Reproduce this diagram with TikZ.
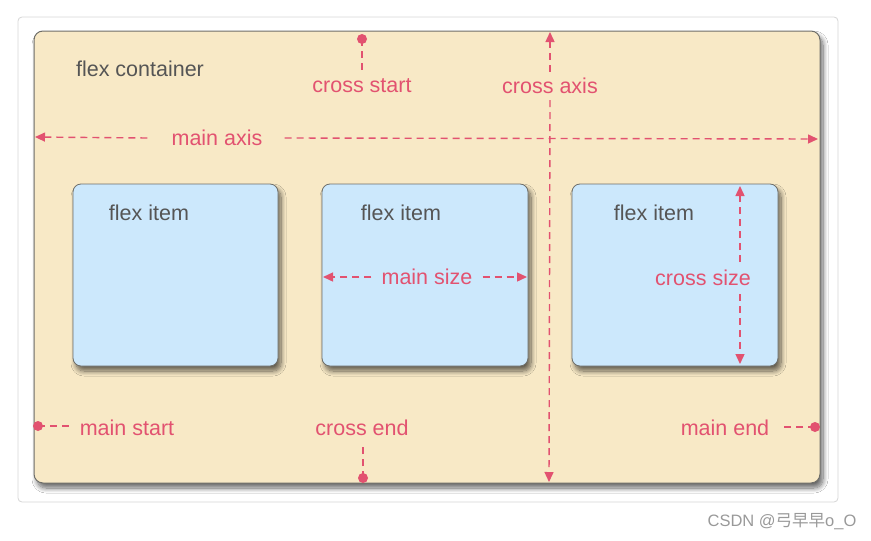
\documentclass[tikz,border=0pt]{standalone}
\usepackage{fontspec}
\setmainfont{Liberation Sans}
\newfontfamily\cjk{Noto Sans CJK SC}
\usetikzlibrary{arrows.meta,shadows.blur}
\definecolor{cardline}{RGB}{214,214,214}
\definecolor{contfill}{RGB}{248,233,198}
\definecolor{itemfill}{RGB}{204,232,252}
\definecolor{boxline}{RGB}{110,110,105}
\definecolor{lblred}{RGB}{226,82,112}
\definecolor{txtgrey}{RGB}{85,85,85}
\tikzset{
  x=1pt, y=-1pt,
  card/.style={draw=cardline, line width=0.8pt, rounded corners=4pt, fill=white},
  container/.style={draw=boxline, line width=1pt, fill=contfill, rounded corners=9pt,
     blur shadow={shadow xshift=3pt, shadow yshift=-5pt, shadow blur steps=10, shadow blur radius=5pt, shadow opacity=60}},
  flexitem/.style={draw=boxline, line width=0.8pt, fill=itemfill, rounded corners=8pt,
     blur shadow={shadow xshift=3pt, shadow yshift=-5pt, shadow blur steps=10, shadow blur radius=5pt, shadow opacity=60}},
  greytxt/.style={text=txtgrey, font=\fontsize{21.5}{25}\selectfont, inner sep=1pt},
  redtxt/.style={text=lblred, font=\fontsize{21.5}{25}\selectfont, inner sep=2pt},
  dashline/.style={draw=lblred, line width=1.4pt, dash pattern=on 7pt off 5pt},
  dotend/.style={circle, fill=lblred, inner sep=0pt, minimum size=10pt},
}
\begin{document}
\begin{tikzpicture}
\useasboundingbox (0,0) rectangle (871,541);
% card
\path[card] (18,17) rectangle (838,502);
% container
\path[container] (34,31) rectangle (820,483);
% items
\path[flexitem] (73,184) rectangle (278,366);
\path[flexitem] (322,184) rectangle (528,366);
\path[flexitem] (572,184) rectangle (778,366);

\node[greytxt] (fc) at (140,69) {flex container};
\node[greytxt] (fi1) at (149,213) {flex item};
\node[greytxt] (fi2) at (401,213) {flex item};
\node[greytxt] (fi3) at (654,213) {flex item};

% main axis
\coordinate (maL) at (35,137);
\coordinate (maR) at (818,139);
\node[redtxt] (ma) at (217,138) {main axis};
\draw[dashline, -{Triangle[length=10pt,width=9pt]}] (ma.west) ++(-22,0) -- (maL);
\draw[dashline, -{Triangle[length=10pt,width=9pt]}] (ma.east) ++(20,0) -- (maR);

% cross axis
\coordinate (caT) at (550,32);
\coordinate (caB) at (549,482);
\node[redtxt] (ca) at (550,86) {cross axis};
\draw[dashline, -{Triangle[length=10pt,width=9pt]}] (ca.north) ++(0,-4) -- (caT);
\draw[dashline, -{Triangle[length=10pt,width=9pt]}] (ca.south) ++(0,4) -- (caB);

% cross start
\node[redtxt] (cs) at (362,86) {cross start};
\node[dotend] (csd) at (362,39) {};
\draw[dashline] (csd.center) -- ++(0,32);

% cross end
\node[redtxt] (ce) at (362,428) {cross end};
\node[dotend] (ced) at (363,478) {};
\draw[dashline] (ced.center) -- ++(0,-34);

% main start
\node[redtxt] (ms) at (127,428) {main start};
\node[dotend] (msd) at (38,426) {};
\draw[dashline] (msd.center) -- ++(32,0);

% main end
\node[redtxt] (me) at (725,428) {main end};
\node[dotend] (med) at (815,427) {};
\draw[dashline] (med.center) -- ++(-34,0);

% main size
\node[redtxt] (msz) at (427,277) {main size};
\coordinate (mszL) at (323,277);
\coordinate (mszR) at (527,277);
\draw[dashline, -{Triangle[length=10pt,width=9pt]}] (msz.west) ++(-8,0) -- (mszL);
\draw[dashline, -{Triangle[length=10pt,width=9pt]}] (msz.east) ++(8,0) -- (mszR);

% cross size
\node[redtxt] (csz) at (703,278) {cross size};
\coordinate (cszT) at (740,186);
\coordinate (cszB) at (740,364);
\draw[dashline, -{Triangle[length=10pt,width=9pt]}] (740,262) -- (cszT);
\draw[dashline, -{Triangle[length=10pt,width=9pt]}] (740,294) -- (cszB);

% watermark
\node[text=gray!80, font=\fontsize{16.5}{19}\selectfont, inner sep=0pt] (wm) at (782,522) {CSDN @{\cjk 弓早早}o\_O};
\end{tikzpicture}
\end{document}
